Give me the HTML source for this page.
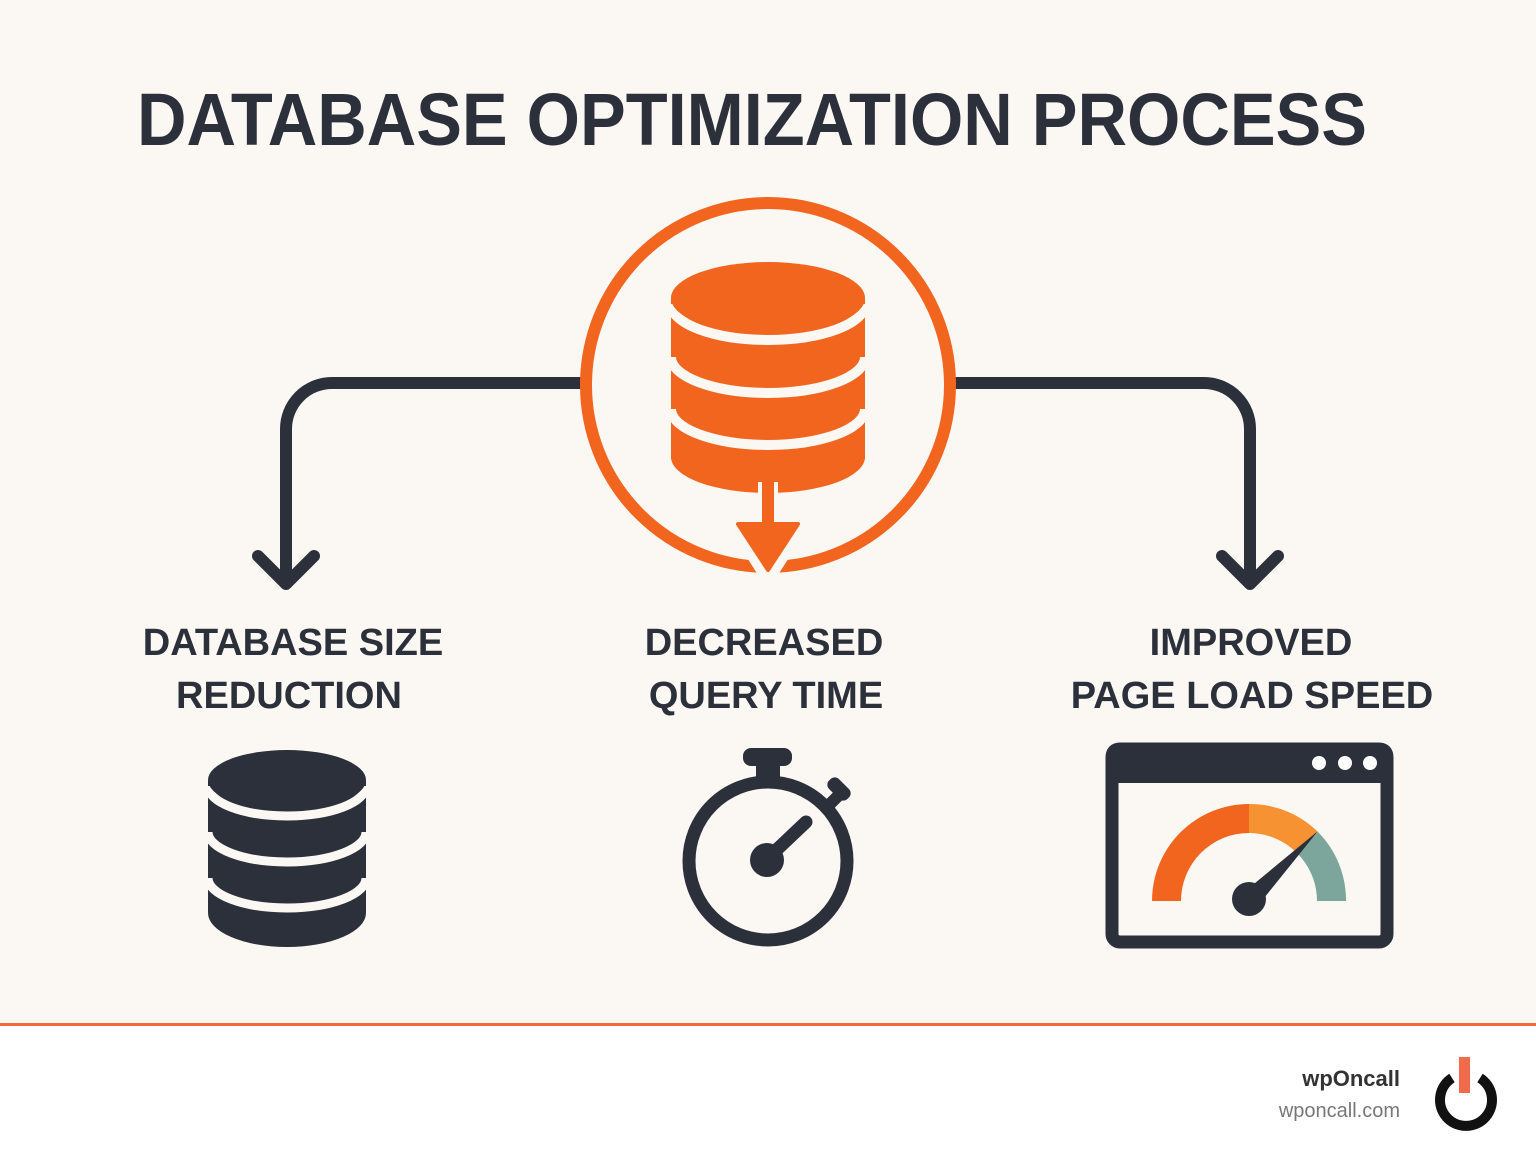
<!DOCTYPE html>
<html><head><meta charset="utf-8"><style>
html,body{margin:0;padding:0;}
body{width:1536px;height:1154px;overflow:hidden;background:#fbf8f3;}
svg{display:block;}
</style></head><body>
<svg width="1536" height="1154" viewBox="0 0 1536 1154" xmlns="http://www.w3.org/2000/svg">
<rect x="0" y="0" width="1536" height="1025" fill="#fbf8f3"/>
<rect x="0" y="1025" width="1536" height="129" fill="#ffffff"/>
<rect x="0" y="1023" width="1536" height="3" fill="#f26a3c"/>

<text x="137" y="145" font-family="Liberation Sans, sans-serif" font-weight="bold" font-size="74" fill="#2b303b" textLength="1230" lengthAdjust="spacingAndGlyphs">DATABASE OPTIMIZATION PROCESS</text>

<!-- connectors -->
<g fill="none" stroke="#2b303b" stroke-width="12" stroke-linecap="round" stroke-linejoin="round">
<path d="M580,383 H332 A46,46 0 0 0 286,429 V582"/>
<path d="M258,556 L286,584 L314,556"/>
<path d="M956,383 H1204 A46,46 0 0 1 1250,429 V582"/>
<path d="M1222,556 L1250,584 L1278,556"/>
</g>

<!-- center circle -->
<circle cx="768" cy="385" r="182" fill="#fbf8f3" stroke="#f2651f" stroke-width="12"/>
<g fill="#f2651f">
<rect x="671" y="298" width="194" height="160"/>
<ellipse cx="768" cy="457" rx="97" ry="36"/>
</g>
<g fill="none" stroke="#fbf8f3" stroke-width="10">
<path d="M671,304 A97,36 0 0 0 865,304"/>
<path d="M671,357 A97,36 0 0 0 865,357"/>
<path d="M671,409 A97,36 0 0 0 865,409"/>
</g>
<ellipse cx="768" cy="298" rx="97" ry="36" fill="#f2651f"/>
<!-- arrow -->
<path d="M768,482 V530 M738,525 H798 L768,572 Z" fill="#fbf8f3" stroke="#fbf8f3" stroke-width="20" stroke-linejoin="round"/>
<rect x="762" y="482" width="12" height="46" fill="#f2651f"/>
<path d="M738,524 H798 L768,570 Z" fill="#f2651f" stroke="#f2651f" stroke-width="4" stroke-linejoin="round"/>

<!-- labels -->
<g font-family="Liberation Sans, sans-serif" font-weight="bold" font-size="38" fill="#2b303b" text-anchor="middle">
<text x="293" y="655">DATABASE SIZE</text>
<text x="289" y="708">REDUCTION</text>
<text x="764" y="655">DECREASED</text>
<text x="766" y="708">QUERY TIME</text>
<text x="1251" y="655">IMPROVED</text>
<text x="1252" y="708">PAGE LOAD SPEED</text>
</g>

<!-- dark db -->
<g fill="#2b303b">
<rect x="208" y="780" width="158" height="132"/>
<ellipse cx="287" cy="913" rx="79" ry="34"/>
</g>
<g fill="none" stroke="#fbf8f3" stroke-width="9">
<path d="M208,786 A79,30 0 0 0 366,786"/>
<path d="M208,832 A79,30 0 0 0 366,832"/>
<path d="M208,878 A79,30 0 0 0 366,878"/>
</g>
<ellipse cx="287" cy="780" rx="79" ry="30" fill="#2b303b"/>

<!-- stopwatch -->
<g fill="#2b303b">
<rect x="743" y="748" width="49" height="18" rx="8"/>
<rect x="756" y="762" width="24" height="20"/>
<rect x="826" y="782" width="26" height="14" rx="6" transform="rotate(45 839 789)"/>
<rect x="830" y="790" width="12" height="16" transform="rotate(45 836 798)"/>
<circle cx="767" cy="860" r="17"/>
</g>
<circle cx="768" cy="861" r="79" fill="none" stroke="#2b303b" stroke-width="13"/>
<line x1="768" y1="858" x2="806" y2="822" stroke="#2b303b" stroke-width="13" stroke-linecap="round"/>

<!-- browser -->
<rect x="1112" y="749" width="275" height="193" rx="8" fill="#fbf8f3" stroke="#2b303b" stroke-width="13"/>
<rect x="1106" y="743" width="287" height="40" rx="12" fill="#2b303b"/>
<g fill="#fff"><circle cx="1319" cy="763" r="7"/><circle cx="1345" cy="763" r="7"/><circle cx="1370" cy="763" r="7"/></g>
<path d="M1152,901 A97,97 0 0 1 1249,804 V833 A68,68 0 0 0 1181,901 Z" fill="#f2651f"/>
<path d="M1249,804 A97,97 0 0 1 1318,832 L1297,853 A68,68 0 0 0 1249,833 Z" fill="#f79232"/>
<path d="M1318,832 A97,97 0 0 1 1346,901 H1317 A68,68 0 0 0 1297,853 Z" fill="#7ca69c"/>
<path d="M1243,893 L1318,831 L1256,908 Z" fill="#2b303b"/>
<circle cx="1249" cy="899" r="17" fill="#2b303b"/>

<!-- footer -->
<text x="1400" y="1086" font-family="Liberation Sans, sans-serif" font-weight="bold" font-size="22" fill="#333" text-anchor="end">wpOncall</text>
<text x="1400" y="1117" font-family="Liberation Sans, sans-serif" font-size="20" fill="#777" text-anchor="end">wponcall.com</text>
<path d="M1452,1078 A26,26 0 1 0 1480,1078" fill="none" stroke="#111" stroke-width="10"/>
<rect x="1459" y="1057" width="11" height="36" fill="#f26a4c"/>
</svg>
</body></html>
